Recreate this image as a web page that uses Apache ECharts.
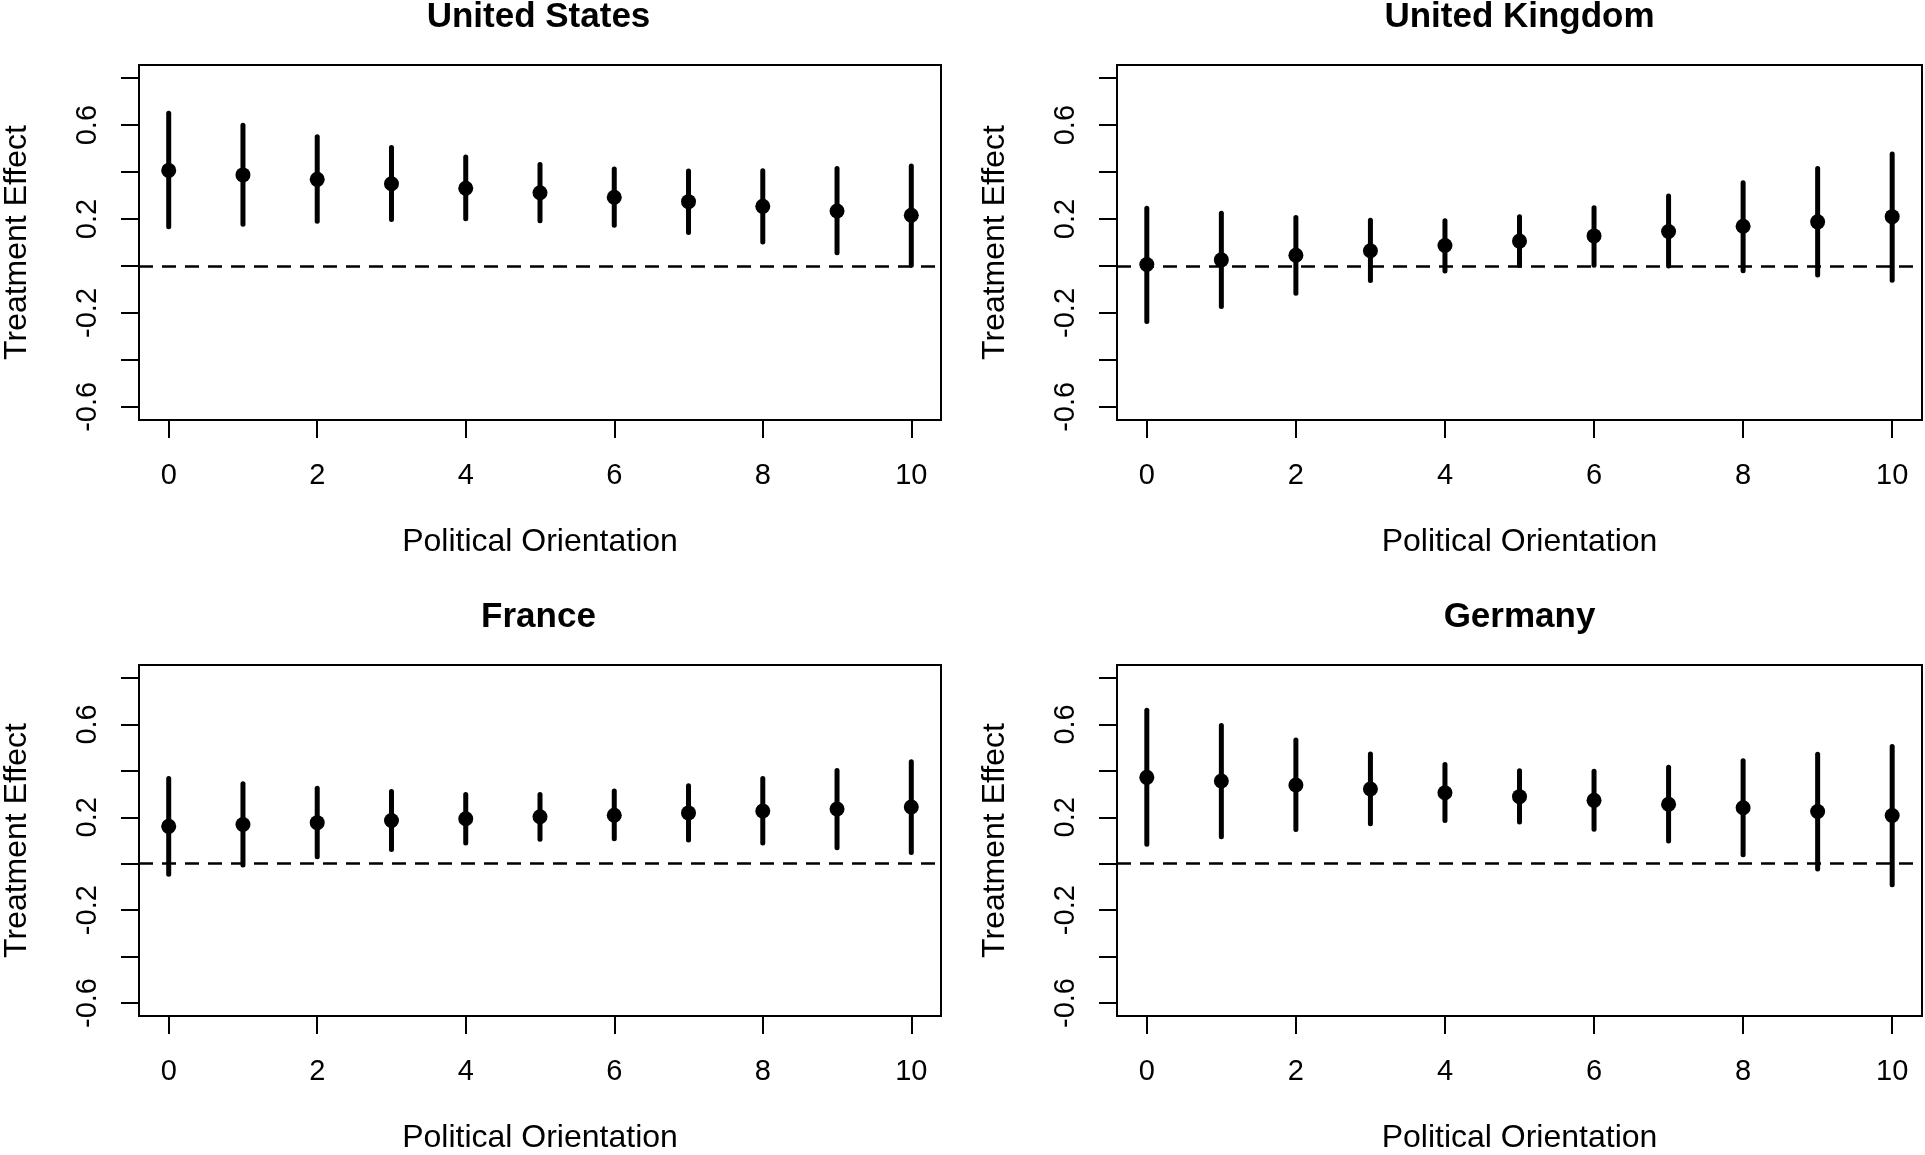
<!DOCTYPE html>
<html>
<head>
<meta charset="utf-8">
<script src="https://cdn.jsdelivr.net/npm/echarts@6/dist/echarts.min.js"></script>
<style>
  html, body { margin: 0; padding: 0; background: #fff; }
  #chart { width: 1925px; height: 1155px; }
</style>
</head>
<body>
<div id="chart"></div>
<script>
const orientation = [0, 1, 2, 3, 4, 5, 6, 7, 8, 9, 10];

const usEst = [0.407, 0.388, 0.369, 0.350, 0.331, 0.312, 0.293, 0.274, 0.254, 0.234, 0.216];
const usLo  = [0.167, 0.178, 0.190, 0.198, 0.201, 0.193, 0.173, 0.143, 0.102, 0.056, 0.003];
const usHi  = [0.650, 0.599, 0.550, 0.505, 0.464, 0.432, 0.413, 0.404, 0.406, 0.415, 0.426];

const ukEst = [0.006, 0.026, 0.046, 0.065, 0.087, 0.106, 0.128, 0.147, 0.169, 0.188, 0.210];
const ukLo  = [-0.236, -0.173, -0.116, -0.062, -0.021, 0.002, 0.003, 0.000, -0.020, -0.038, -0.061];
const ukHi  = [0.246, 0.225, 0.207, 0.195, 0.193, 0.210, 0.248, 0.298, 0.354, 0.415, 0.477];

const frEst = [0.161, 0.169, 0.177, 0.186, 0.194, 0.202, 0.209, 0.219, 0.227, 0.236, 0.244];
const frLo  = [-0.045, -0.006, 0.030, 0.061, 0.089, 0.105, 0.108, 0.102, 0.089, 0.069, 0.048];
const frHi  = [0.367, 0.345, 0.325, 0.311, 0.298, 0.298, 0.313, 0.336, 0.367, 0.402, 0.439];

const deEst = [0.372, 0.356, 0.339, 0.322, 0.306, 0.289, 0.273, 0.256, 0.241, 0.225, 0.208];
const deLo  = [0.084, 0.116, 0.147, 0.172, 0.186, 0.180, 0.148, 0.098, 0.039, -0.023, -0.091];
const deHi  = [0.661, 0.595, 0.533, 0.473, 0.427, 0.400, 0.398, 0.416, 0.444, 0.472, 0.505];

const xTicks = [0, 2, 4, 6, 8, 10];
const yTicks = [-0.6, -0.4, -0.2, 0, 0.2, 0.4, 0.6, 0.8];
const yLabels = [-0.6, -0.2, 0.2, 0.6];

const titles = ["United States", "United Kingdom", "France", "Germany"];
const xTitle = "Political Orientation";
const yTitle = "Treatment Effect";

const panels = [
    { est: usEst, lo: usLo, hi: usHi, left: 136, top: 65 },
    { est: ukEst, lo: ukLo, hi: ukHi, left: 1117, top: 65 },
    { est: frEst, lo: frLo, hi: frHi, left: 136, top: 665 },
    { est: deEst, lo: deLo, hi: deHi, left: 1117, top: 665 },
];

const FONT = "'Liberation Sans', Arial, Helvetica, sans-serif";
const W = 805, H = 355;

const chart = echarts.init(document.getElementById("chart"));

let grid = [], xAxis = [], yAxis = [], series = [], graphic = [];

panels.forEach((p, i) => {
    grid.push({
        left: p.left,
        top: p.top,
        width: W,
        height: H,
        show: true,
        borderColor: "#000",
        borderWidth: 2,
        backgroundColor: "transparent",
    });
    xAxis.push({
        type: "value",
        gridIndex: i,
        min: -0.4,
        max: 10.4,
        splitLine: { show: false },
        axisLine: { show: false, onZero: false },
        axisTick: {
            show: true,
            inside: false,
            length: 18,
            customValues: xTicks,
            lineStyle: { color: "#000", width: 2 },
        },
        axisLabel: {
            customValues: xTicks,
            margin: 41,
            color: "#000",
            fontSize: 29,
            fontFamily: FONT,
        },
        name: xTitle,
        nameLocation: "middle",
        nameGap: 106,
        nameTextStyle: { color: "#000", fontSize: 32, fontFamily: FONT },
    });
    yAxis.push({
        type: "value",
        gridIndex: i,
        min: -0.656,
        max: 0.856,
        splitLine: { show: false },
        axisLine: { show: false, onZero: false },
        axisTick: {
            show: true,
            inside: false,
            length: 18,
            customValues: yTicks,
            lineStyle: { color: "#000", width: 2 },
        },
        axisLabel: {
            customValues: yLabels,
            rotate: 90,
            margin: 37,
            color: "#000",
            fontSize: 29,
            fontFamily: FONT,
            formatter: (v) => String(v),
        },
        name: yTitle,
        nameLocation: "middle",
        nameGap: 106,
        nameTextStyle: { color: "#000", fontSize: 32, fontFamily: FONT },
    });

    // confidence intervals
    series.push({
        type: "custom",
        xAxisIndex: i,
        yAxisIndex: i,
        data: orientation.map((x, k) => [x, p.lo[k], p.hi[k]]),
        renderItem: function (params, api) {
            const x = api.value(0);
            const a = api.coord([x, api.value(1)]);
            const b = api.coord([x, api.value(2)]);
            return {
                type: "line",
                shape: { x1: a[0], y1: a[1], x2: b[0], y2: b[1] },
                style: { stroke: "#000", lineWidth: 5, lineCap: "round" },
            };
        },
        z: 2,
    });

    // point estimates + zero line
    series.push({
        type: "scatter",
        xAxisIndex: i,
        yAxisIndex: i,
        data: orientation.map((x, k) => [x, p.est[k]]),
        symbol: "circle",
        symbolSize: 15,
        itemStyle: { color: "#000", opacity: 1 },
        z: 3,
        markLine: {
            silent: true,
            symbol: "none",
            label: { show: false },
            lineStyle: { color: "#000", width: 2.5, type: [14, 9], opacity: 1 },
            data: [{ yAxis: 0 }],
        },
    });

    graphic.push({
        type: "text",
        x: p.left + W / 2,
        y: p.top - 48,
        style: {
            text: titles[i],
            fill: "#000",
            fontSize: 35,
            fontWeight: "bold",
            fontFamily: FONT,
            align: "center",
            verticalAlign: "middle",
        },
    });
});

chart.setOption({
    animation: false,
    backgroundColor: "#fff",
    grid: grid,
    xAxis: xAxis,
    yAxis: yAxis,
    series: series,
    graphic: graphic,
});
</script>
</body>
</html>
